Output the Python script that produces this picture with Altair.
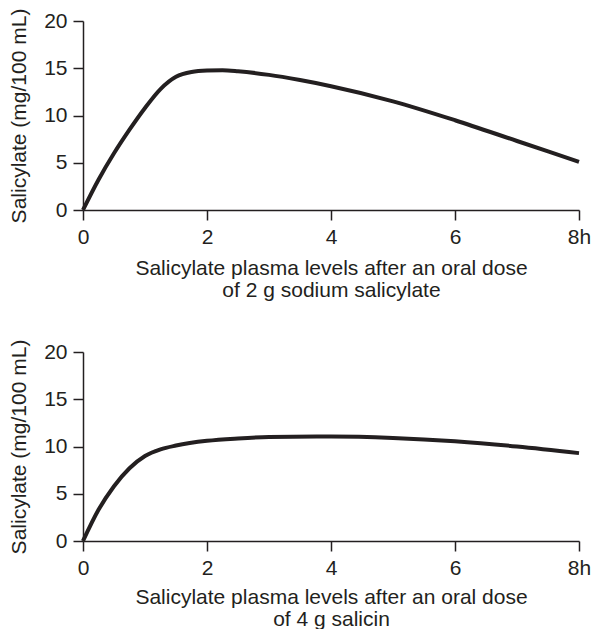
import altair as alt
import pandas as pd

# Panel A: 2 g sodium salicylate
hours_a = [0, 0.25, 0.5, 0.75, 1, 1.25, 1.5, 1.75, 2, 2.25, 2.5, 3, 3.5, 4, 5, 6, 7, 8]
level_a = [0, 3.2, 6.0, 8.5, 10.8, 12.8, 14.1, 14.6, 14.75, 14.78, 14.68, 14.3, 13.75, 13.1, 11.5, 9.5, 7.3, 5.1]

# Panel B: 4 g salicin
hours_b = [0, 0.25, 0.5, 0.75, 1, 1.25, 1.5, 2, 2.5, 3, 4, 5, 6, 7, 8]
level_b = [0, 3.3, 5.8, 7.7, 9.0, 9.7, 10.1, 10.6, 10.85, 11.0, 11.05, 10.9, 10.55, 10.0, 9.3]

x_ticks = [0, 2, 4, 6, 8]
y_ticks = [0, 5, 10, 15, 20]
title_a = ["Salicylate plasma levels after an oral dose", "of 2 g sodium salicylate"]
title_b = ["Salicylate plasma levels after an oral dose", "of 4 g salicin"]
y_title = "Salicylate (mg/100 mL)"

INK = "#231f20"
FONT = "Liberation Sans"


def panel(h, v, title, tpad):
    df = pd.DataFrame({"h": h, "v": v})
    return alt.Chart(df).mark_line(
        color=INK, strokeWidth=4, interpolate="monotone", strokeCap="butt"
    ).encode(
        x=alt.X(
            "h:Q",
            scale=alt.Scale(domain=[0, 8], nice=False),
            axis=alt.Axis(
                values=x_ticks,
                title=title,
                labelExpr="datum.value == 8 ? '8h' : datum.label",
                labelFlush=False,
                titlePadding=tpad,
                titleLineHeight=22,
            ),
        ),
        y=alt.Y(
            "v:Q",
            scale=alt.Scale(domain=[0, 20], nice=False),
            axis=alt.Axis(values=y_ticks, title=y_title, titlePadding=14, labelFlush=False),
        ),
    ).properties(width=496, height=189)


chart = alt.vconcat(
    panel(hours_a, level_a, title_a, 10),
    panel(hours_b, level_b, title_b, 8),
    spacing=39,
).configure_view(stroke=None).configure_axis(
    grid=False,
    domainColor=INK,
    domainWidth=1.5,
    tickColor=INK,
    tickWidth=1.5,
    tickSize=10,
    labelFont=FONT,
    labelFontSize=21,
    labelColor=INK,
    labelPadding=6,
    titleFont=FONT,
    titleFontSize=21,
    titleFontWeight="normal",
    titleColor=INK,
).properties(
    padding={"left": 0, "top": 0, "right": 0, "bottom": 0},
    background="white",
)

chart.save("out.html", embed_options={"renderer": "svg", "actions": False})
